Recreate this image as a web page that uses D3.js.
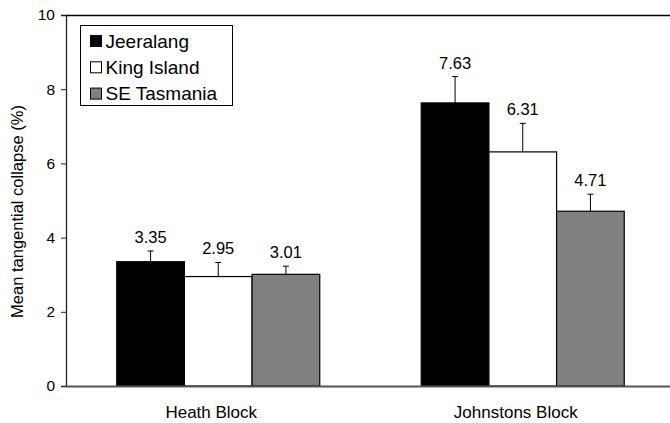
<!DOCTYPE html>
<html>
<head>
<meta charset="utf-8">
<script src="https://cdn.jsdelivr.net/npm/d3@7"></script>
<style>
  body { margin: 0; background: #fff; }
  text { font-family: Arial, "Liberation Sans", Helvetica, sans-serif; fill: #000; }
</style>
</head>
<body>
<div id="wrapper"></div>
<script>
const blocks = ["Heath Block", "Johnstons Block"]
const sources = ["Jeeralang", "King Island", "SE Tasmania"]
const sourceColors = ["#000000", "#ffffff", "#808080"]
// mean per block, in the order of sources
const means = [
  [3.35, 2.95, 3.01],
  [7.63, 6.31, 4.71]
]
// top of the error bar (mean + error)
const errorTops = [
  [3.64, 3.33, 3.23],
  [8.34, 7.08, 5.17]
]
const yTicks = [0, 2, 4, 6, 8, 10]

function drawChart() {
  let dimensions = {
    width: 670,
    height: 423,
    margin: { top: 15, right: -5, bottom: 37, left: 66 }
  }
  dimensions.boundedWidth = dimensions.width - dimensions.margin.left - dimensions.margin.right
  dimensions.boundedHeight = dimensions.height - dimensions.margin.top - dimensions.margin.bottom

  const wrapper = d3.select("#wrapper")
    .append("svg")
      .attr("width", dimensions.width)
      .attr("height", dimensions.height)

  const bounds = wrapper.append("g")
    .attr("transform", `translate(${dimensions.margin.left}, ${dimensions.margin.top})`)

  const xScale = d3.scaleBand()
    .domain(blocks)
    .range([0, dimensions.boundedWidth])

  const subScale = d3.scaleBand()
    .domain(sources)
    .range([0, xScale.bandwidth()])
    .paddingOuter(0.75)

  const yScale = d3.scaleLinear()
    .domain([0, 10])
    .range([dimensions.boundedHeight, 0])

  // top frame line
  bounds.append("line")
    .attr("x1", 0).attr("x2", dimensions.boundedWidth)
    .attr("y1", 0.5).attr("y2", 0.5)
    .attr("stroke", "#000").attr("stroke-width", 1.5)

  const rows = blocks.map((b, i) => sources.map((s, j) => ({
    block: b, source: s, value: means[i][j], top: errorTops[i][j], color: sourceColors[j]
  }))).flat()

  const bar = bounds.selectAll(".bar")
    .data(rows)
    .join("g")
      .attr("class", "bar")
      .attr("transform", d => `translate(${xScale(d.block) + subScale(d.source)}, 0)`)

  bar.append("rect")
    .attr("x", 0)
    .attr("y", d => yScale(d.value))
    .attr("width", subScale.bandwidth())
    .attr("height", d => yScale(0) - yScale(d.value))
    .attr("fill", d => d.color)
    .attr("stroke", "#000")
    .attr("stroke-width", 1.2)

  const cx = subScale.bandwidth() / 2
  bar.append("line")
    .attr("x1", cx).attr("x2", cx)
    .attr("y1", d => yScale(d.value))
    .attr("y2", d => yScale(d.top))
    .attr("stroke", "#000")
  bar.append("line")
    .attr("x1", cx - 3).attr("x2", cx + 3)
    .attr("y1", d => yScale(d.top))
    .attr("y2", d => yScale(d.top))
    .attr("stroke", "#000")

  bar.append("text")
    .attr("x", cx)
    .attr("y", d => yScale(d.top) - 8)
    .attr("text-anchor", "middle")
    .style("font-size", "16.5px")
    .text(d => d.value.toFixed(2))

  // y axis
  const yAxisGenerator = d3.axisLeft(yScale)
    .tickValues(yTicks)
    .tickSize(5)
    .tickPadding(6)
    .tickFormat(d3.format("d"))

  const yAxis = bounds.append("g")
    .call(yAxisGenerator)
  yAxis.select(".domain").attr("stroke", "#222").attr("stroke-width", 1.3)
  yAxis.selectAll(".tick line").attr("stroke", "#222")
  yAxis.selectAll(".tick text")
    .style("font-size", "15.5px")
    .style("font-family", "Arial, 'Liberation Sans', sans-serif")

  // x axis
  const xAxis = bounds.append("g")
    .attr("transform", `translate(0, ${dimensions.boundedHeight})`)
    .call(d3.axisBottom(xScale).tickSize(0).tickPadding(0))
  xAxis.select(".domain").attr("stroke", "#555").attr("stroke-width", 2)
  xAxis.selectAll(".tick text")
    .attr("dx", -7)
    .attr("dy", 0)
    .attr("y", 32)
    .style("font-size", "17px")
    .style("font-family", "Arial, 'Liberation Sans', sans-serif")

  // y axis title
  wrapper.append("text")
    .attr("transform", `translate(23, ${dimensions.margin.top + dimensions.boundedHeight / 2 + 11}) rotate(-90)`)
    .attr("text-anchor", "middle")
    .style("font-size", "16.5px")
    .text("Mean tangential collapse (%)")

  // legend
  const legend = wrapper.append("g")
    .attr("transform", "translate(80.5, 25.5)")
  legend.append("rect")
    .attr("width", 152).attr("height", 80)
    .attr("fill", "#fff").attr("stroke", "#000")

  const item = legend.selectAll(".item")
    .data(sources)
    .join("g")
      .attr("class", "item")
      .attr("transform", (d, i) => `translate(10, ${10 + i * 26.3})`)
  item.append("rect")
    .attr("width", 11).attr("height", 11)
    .attr("fill", (d, i) => sourceColors[i])
    .attr("stroke", "#000")
  item.append("text")
    .attr("x", 15)
    .attr("y", 12)
    .style("font-size", "19px")
    .text(d => d)
}

drawChart()
</script>
</body>
</html>
